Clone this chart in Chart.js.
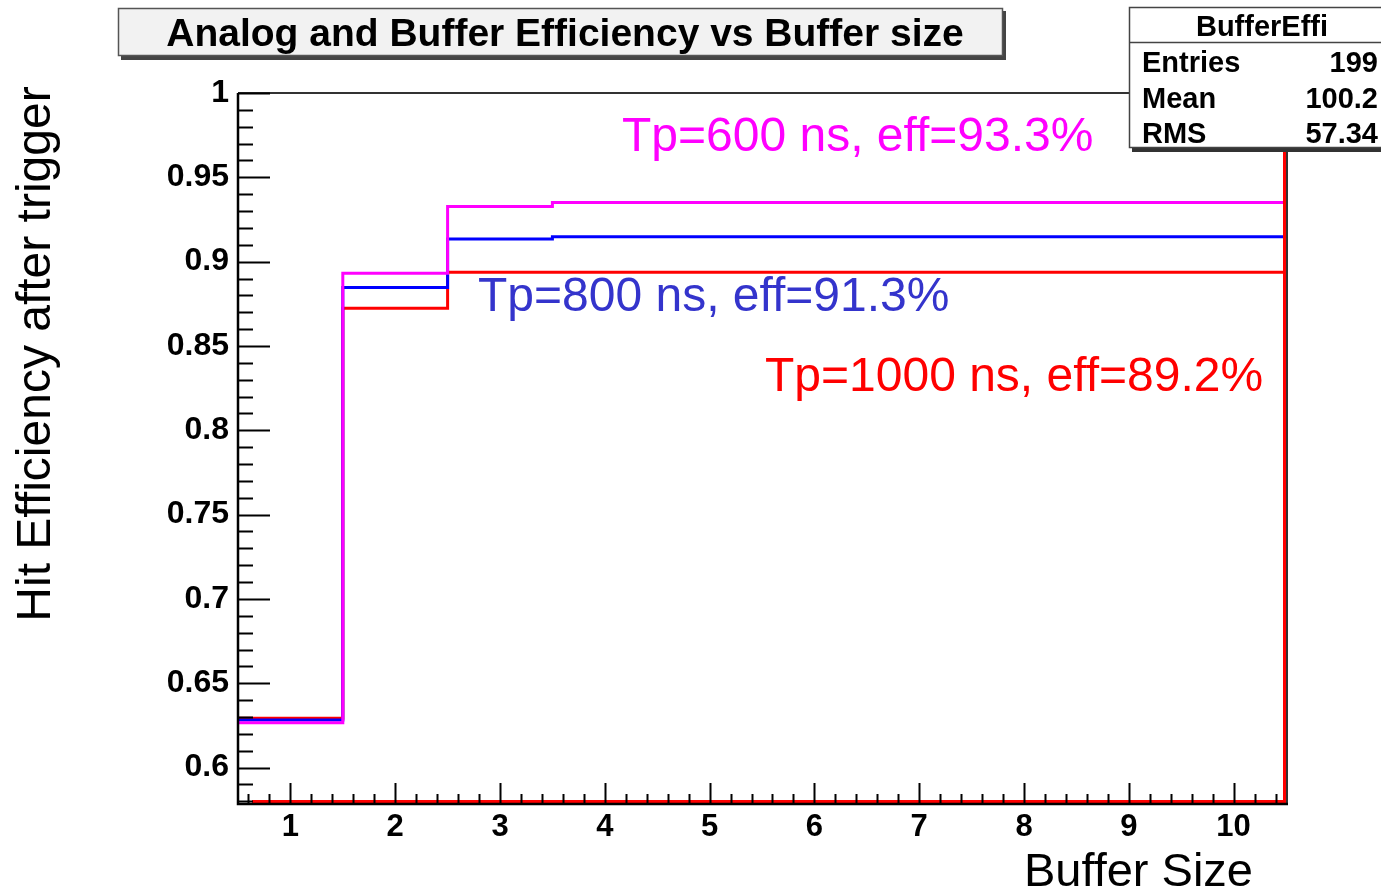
<!DOCTYPE html>
<html>
<head>
<meta charset="utf-8">
<title>Analog and Buffer Efficiency vs Buffer size</title>
<script src="https://cdn.jsdelivr.net/npm/chart.js@4.4.1/dist/chart.umd.min.js"></script>
<style>
    html, body { margin: 0; padding: 0; background: #fff; }
    canvas { display: block; }
</style>
</head>
<body>
<canvas id="chart" width="1381" height="896"></canvas>
<script>
// hit efficiency per buffer size bin

const binEdges = [0.5, 1.5, 2.5, 3.5, 4.5, 5.5, 6.5, 7.5, 8.5, 9.5, 10.5];
const effTp600 = [0.6266, 0.8931, 0.9327, 0.9350, 0.9350, 0.9350, 0.9350, 0.9350, 0.9350, 0.9350];
const effTp800 = [0.6282, 0.8846, 0.9135, 0.9148, 0.9148, 0.9148, 0.9148, 0.9148, 0.9148, 0.9148];
const effTp1000 = [0.6292, 0.8723, 0.8937, 0.8937, 0.8937, 0.8937, 0.8937, 0.8937, 0.8937, 0.8937];

const xTicks = [1, 2, 3, 4, 5, 6, 7, 8, 9, 10];
const yTicks = [0.6, 0.65, 0.7, 0.75, 0.8, 0.85, 0.9, 0.95, 1];
const yTickLabels = ['0.6', '0.65', '0.7', '0.75', '0.8', '0.85', '0.9', '0.95', '1'];

const chartTitle = 'Analog and Buffer Efficiency vs Buffer size';
const xTitle = 'Buffer Size';
const yTitle = 'Hit Efficiency after trigger';
const noteTexts = ['Tp=600 ns, eff=93.3%', 'Tp=800 ns, eff=91.3%', 'Tp=1000 ns, eff=89.2%'];
const statsTitle = 'BufferEffi';
const statsNames = ['Entries', 'Mean', 'RMS'];
const statsValues = ['199', '100.2', '57.34'];

const FONT = '"Liberation Sans", Arial, Helvetica, sans-serif';

// histogram outline: one point per upper bin edge, first point at the lower edge
function toSteps(vals) {
    const pts = [{ x: binEdges[0], y: vals[0] }];
    vals.forEach((v, i) => pts.push({ x: binEdges[i + 1], y: v }));
    return pts;
}

// ROOT style frame, inward ticks, boxes and texts
const rootPlugin = {
    id: 'rootFrame',
    beforeDraw(chart) {
        const ctx = chart.ctx;
        ctx.save();
        ctx.fillStyle = '#fff';
        ctx.fillRect(0, 0, chart.width, chart.height);
        ctx.restore();
    },
    afterDatasetsDraw(chart) {
        const ctx = chart.ctx;
        const area = chart.chartArea;
        const xs = chart.scales.x;
        const ys = chart.scales.y;

        ctx.save();

        // red edges along bottom and right
        ctx.strokeStyle = '#ff0000';
        ctx.lineWidth = 3;
        ctx.beginPath();
        ctx.moveTo(area.left + 14, area.bottom - 1.5);
        ctx.lineTo(area.right - 1.5, area.bottom - 1.5);
        ctx.lineTo(area.right - 1.5, area.top);
        ctx.stroke();

        // frame top and right
        ctx.strokeStyle = '#333';
        ctx.lineWidth = 2;
        ctx.beginPath();
        ctx.moveTo(area.left, area.top);
        ctx.lineTo(area.right + 1, area.top);
        ctx.lineTo(area.right + 1, area.bottom);
        ctx.stroke();

        // axes
        ctx.strokeStyle = '#000';
        ctx.lineWidth = 2.5;
        ctx.beginPath();
        ctx.moveTo(area.left, area.top);
        ctx.lineTo(area.left, area.bottom + 1);
        ctx.lineTo(area.right + 2, area.bottom + 1);
        ctx.stroke();

        // y ticks every 0.01, long ones every 0.05
        ctx.lineWidth = 2;
        ctx.beginPath();
        for (let k = 58; k <= 100; k++) {
            const py = Math.round(ys.getPixelForValue(k / 100)) + 0.5;
            if (py > area.bottom || py < area.top) continue;
            const len = k % 5 === 0 ? 32 : 15;
            ctx.moveTo(area.left, py);
            ctx.lineTo(area.left + len, py);
        }
        // x ticks every 0.2, long ones on integers
        for (let k = 3; k <= 52; k++) {
            const px = Math.round(xs.getPixelForValue(k * 0.2)) + 0.5;
            const len = k % 5 === 0 ? 20 : 9;
            ctx.moveTo(px, area.bottom);
            ctx.lineTo(px, area.bottom - len);
        }
        ctx.stroke();

        // annotations
        const notePos = [
            { x: 622, y: 138, color: '#ff00ff' },
            { x: 478, y: 298, color: '#3434cc' },
            { x: 765, y: 378, color: '#ff0000' }
        ];
        ctx.font = '48px ' + FONT;
        ctx.textAlign = 'left';
        ctx.textBaseline = 'middle';
        noteTexts.forEach((t, i) => {
            ctx.fillStyle = notePos[i].color;
            ctx.fillText(t, notePos[i].x, notePos[i].y);
        });

        // axis titles
        ctx.fillStyle = '#000';
        ctx.font = '47px ' + FONT;
        ctx.textAlign = 'right';
        ctx.textBaseline = 'alphabetic';
        ctx.fillText(xTitle, 1253, 886);

        ctx.save();
        ctx.font = '48px ' + FONT;
        ctx.translate(50, 354);
        ctx.rotate(-Math.PI / 2);
        ctx.textAlign = 'center';
        ctx.fillText(yTitle, 0, 0);
        ctx.restore();

        // title box
        ctx.fillStyle = '#444';
        ctx.fillRect(121, 11, 885, 49);
        ctx.fillStyle = '#f2f2f2';
        ctx.fillRect(118, 8, 885, 48);
        ctx.strokeStyle = '#555';
        ctx.lineWidth = 1.5;
        ctx.strokeRect(118.5, 8.5, 884, 47);
        ctx.fillStyle = '#000';
        ctx.font = 'bold 39px ' + FONT;
        ctx.textAlign = 'center';
        ctx.fillText(chartTitle, 565, 46);

        // stats box
        ctx.fillStyle = '#333';
        ctx.fillRect(1132, 10, 260, 142);
        ctx.fillStyle = '#fff';
        ctx.fillRect(1129, 7, 260, 141);
        ctx.strokeStyle = '#444';
        ctx.lineWidth = 1.5;
        ctx.strokeRect(1129.5, 7.5, 260, 140);
        ctx.beginPath();
        ctx.moveTo(1129, 42.5);
        ctx.lineTo(1381, 42.5);
        ctx.stroke();
        ctx.fillStyle = '#000';
        ctx.font = 'bold 29px ' + FONT;
        ctx.textAlign = 'center';
        ctx.fillText(statsTitle, 1262, 36);
        ctx.font = 'bold 29px ' + FONT;
        statsNames.forEach((n, i) => {
            const by = 72 + i * 35.5;
            ctx.textAlign = 'left';
            ctx.fillText(n, 1142, by);
            ctx.textAlign = 'right';
            ctx.fillText(statsValues[i], 1378, by);
        });

        ctx.restore();
    }
};

const chart = new Chart(document.getElementById('chart'), {
    type: 'line',
    data: {
        datasets: [
            {
                label: 'Tp=600 ns',
                data: toSteps(effTp600),
                borderColor: '#ff00ff',
                order: 1
            },
            {
                label: 'Tp=800 ns',
                data: toSteps(effTp800),
                borderColor: '#0000ff',
                order: 2
            },
            {
                label: 'Tp=1000 ns',
                data: toSteps(effTp1000),
                borderColor: '#ff0000',
                order: 3
            }
        ]
    },
    options: {
        responsive: false,
        animation: false,
        events: [],
        datasets: {
            line: {
                stepped: 'after',
                borderWidth: 3,
                pointRadius: 0,
                fill: false,
                tension: 0
            }
        },
        layout: {
            padding: { top: 93, right: 95, bottom: 0, left: 0 }
        },
        plugins: {
            legend: { display: false },
            tooltip: { enabled: false },
            title: { display: false }
        },
        scales: {
            x: {
                type: 'linear',
                min: 0.5,
                max: 10.5,
                grid: { display: false, drawTicks: false },
                border: { display: false },
                afterBuildTicks(scale) {
                    scale.ticks = xTicks.map(v => ({ value: v }));
                },
                afterFit(scale) {
                    scale.height = 93;
                },
                ticks: {
                    autoSkip: false,
                    maxRotation: 0,
                    padding: 6,
                    color: '#000',
                    font: { family: FONT, size: 31, weight: 'bold' },
                    callback: (v) => String(v)
                }
            },
            y: {
                type: 'linear',
                min: 0.579,
                max: 1.0,
                grid: { display: false, drawTicks: false },
                border: { display: false },
                afterBuildTicks(scale) {
                    scale.ticks = yTicks.map(v => ({ value: v }));
                },
                afterFit(scale) {
                    scale.width = 238;
                },
                ticks: {
                    autoSkip: false,
                    padding: 9,
                    color: '#000',
                    font: { family: FONT, size: 32, weight: 'bold' },
                    callback: (v, i) => yTickLabels[i]
                }
            }
        }
    },
    plugins: [rootPlugin]
});
</script>
</body>
</html>
